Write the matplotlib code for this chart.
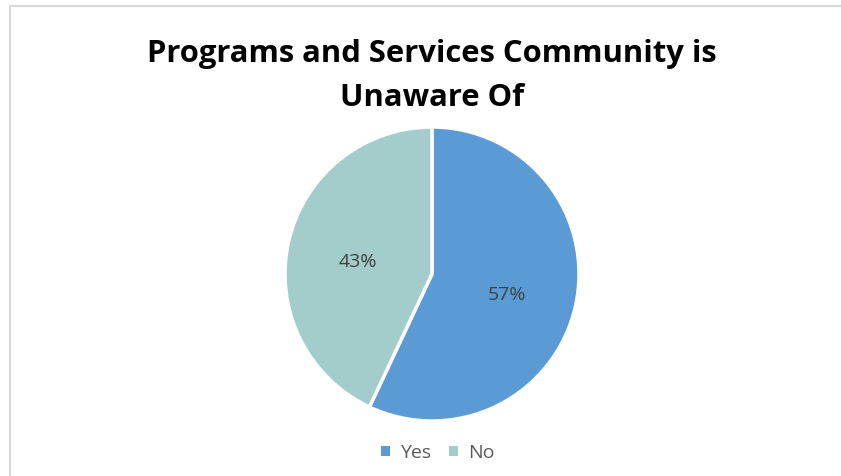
import matplotlib
matplotlib.use("Agg")
import matplotlib.pyplot as plt
from matplotlib.patches import Rectangle, Patch

categories = ["Yes", "No"]
values = [57, 43]
colors = ["#5B9BD5", "#A2CDCB"]
title = "Programs and Services Community is\nUnaware Of"

W, H = 841, 476
fig = plt.figure(figsize=(W / 100, H / 100), dpi=100)
fig.patch.set_facecolor("white")

# border (right and bottom edges fall outside the image, as in the reference)
fig.add_artist(Rectangle((9.5 / W, -0.5), 2, 1.5 - 5.5 / H, transform=fig.transFigure,
                         fill=False, edgecolor="#D9D9D9", linewidth=1.5))

cx, cy, r = 432, 274, 147
ax = fig.add_axes([(cx - r) / W, 1 - (cy + r) / H, 2 * r / W, 2 * r / H])
wedges, texts, autotexts = ax.pie(
    values, colors=colors, startangle=90, counterclock=False,
    autopct="%1.0f%%", pctdistance=0.52,
    wedgeprops=dict(edgecolor="white", linewidth=2.5),
    textprops=dict(fontsize=14, color="#404040", family="Open Sans"),
)
for t in autotexts:
    x0, y0 = t.get_position()
    t.set_position((x0, y0 - 0.03))
ax.set_xlim(-1, 1)
ax.set_ylim(-1, 1)
ax.set_aspect("equal")
ax.axis("off")

fig.text(432 / W, 1 - 76 / H, title, ha="center", va="center", fontsize=22.3,
         fontweight="bold", family="Open Sans", linespacing=1.6, color="black")

handles = [Patch(facecolor=c, edgecolor="none") for c in colors]
fig.legend(handles, categories, loc="center", bbox_to_anchor=(438 / W, 1 - 453 / H),
           ncol=2, frameon=False, prop=dict(family="Open Sans", size=14),
           handlelength=0.45, handleheight=0.45, handletextpad=0.55, columnspacing=0.9,
           labelcolor="#595959")

fig.savefig("out.png", dpi=100)
